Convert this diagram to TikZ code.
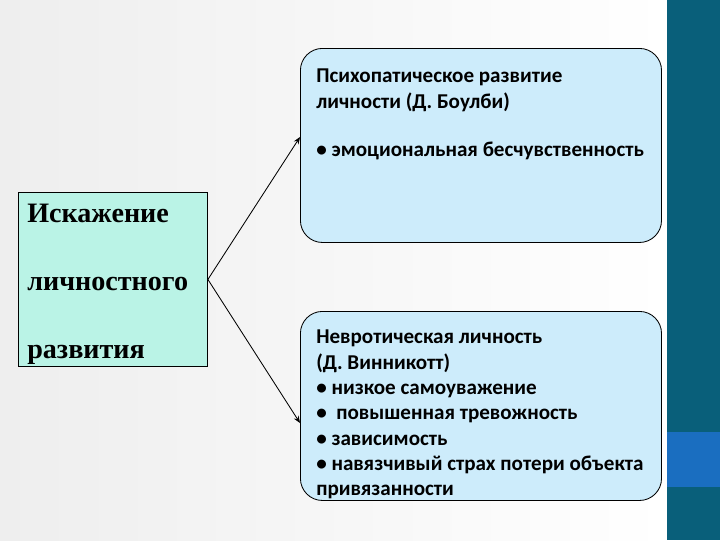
\documentclass[tikz,border=0pt]{standalone}
\usepackage{fontspec}
\setmainfont{Carlito}
\newfontfamily\timesbold[BoldFont={Liberation Serif Bold}]{Liberation Serif}
\usepackage{xcolor}
\usepackage{tikz}
\usetikzlibrary{
	arrows.meta, 
	calc, 
	positioning
}
\definecolor{bgray}{RGB}{238,238,238}
\definecolor{barteal}{RGB}{9,95,122}
\definecolor{barblue}{RGB}{26,110,192}
\definecolor{srcfill}{RGB}{186,243,230}
\definecolor{boxfill}{RGB}{205,236,251}
\tikzset{
	srcbox/.style={draw, fill=srcfill, line width=0.6pt, inner sep=0pt, anchor=north west},
	typebox/.style={draw, fill=boxfill, line width=0.6pt, rounded corners=0.55cm, inner sep=0pt, anchor=north west},
	srcline/.style={anchor=base west, inner sep=0pt, font=\timesbold\bfseries\fontsize{20}{24}\selectfont},
	typetext/.style={anchor=north west, inner sep=0pt, align=left, font=\bfseries\fontsize{15}{18}\selectfont},
	link/.style={-{Stealth[length=5pt, width=4pt]}, line width=0.6pt}
}

\begin{document}
\begin{tikzpicture}[x=0.025cm, y=-0.025cm]
		\useasboundingbox (0,0) rectangle (720,540);
		\shade[left color=bgray, right color=white] (0,0) rectangle (667,540);
		\fill[barteal] (667,0) rectangle (720,540);
		\fill[barblue] (667,432) rectangle (720,487);
		% source box
		\node[srcbox, minimum width=4.725cm, minimum height=4.35cm] (src) at (18,192) {};
		\node[srcline] (src1) at (27,222) {Искажение};
		\node[srcline] (src2) at (27,290) {личностного};
		\node[srcline] (src3) at (27,358) {развития};
		% the two types
		\node[typebox, minimum width=9.025cm, minimum height=4.85cm] (psy) at (300,48) {};
		\node[typetext] (psytext) at (316,69) {Психопатическое развитие\\личности (Д. Боулби)\\[16pt]• эмоциональная бесчувственность};
		\node[typebox, minimum width=9.025cm, minimum height=4.725cm] (neu) at (300,311) {};
		\node[typetext] (neutext) at (316,330) {Невротическая личность\\(Д. Винникотт)\\• низкое самоуважение\\• \ повышенная тревожность\\• зависимость\\• навязчивый страх потери объекта\\привязанности};
		\coordinate (psyin) at (300,137);
		\coordinate (neuin) at (300,423);
		\draw[link] (src.east) -- (psyin);
		\draw[link] (src.east) -- (neuin);
	\end{tikzpicture}
\end{document}
